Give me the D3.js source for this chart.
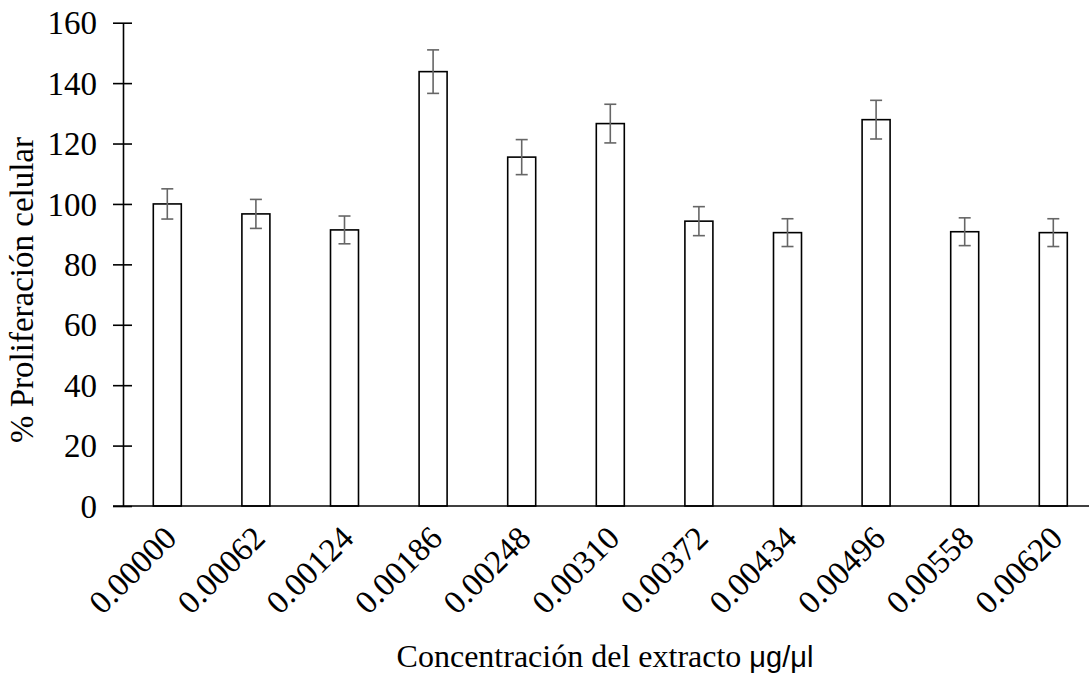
<!DOCTYPE html>
<html>
<head>
<meta charset="utf-8">
<script src="https://cdn.jsdelivr.net/npm/d3@7"></script>
<style>
  html, body { margin: 0; padding: 0; background: #fff; }
  svg { display: block; }
  text { font-family: "Liberation Serif", "Times New Roman", serif; fill: #000; }
</style>
</head>
<body>
<svg id="chart" width="1089" height="675"></svg>
<script>
// Extract concentration (µg/µl)
const categories = ["0.00000", "0.00062", "0.00124", "0.00186", "0.00248", "0.00310",
                    "0.00372", "0.00434", "0.00496", "0.00558", "0.00620"];
// Mean cell proliferation (%)
const means = [100, 96.7, 91.4, 143.8, 115.5, 126.6, 94.3, 90.5, 127.9, 90.8, 90.5];
// Standard error of each mean
const errors = [5.0, 4.8, 4.6, 7.2, 5.8, 6.4, 4.8, 4.6, 6.4, 4.6, 4.6];
const yTicks = [0, 20, 40, 60, 80, 100, 120, 140, 160];

const data = categories.map((c, i) => ({ c, v: means[i], e: errors[i] }));

const svg = d3.select("#chart");
const axisX = 123, baseY = 506, topY = 22.7, rightX = 1097.6;

const x = d3.scaleBand()
  .domain(categories)
  .range([axisX, rightX])
  .paddingInner(0.684)
  .paddingOuter(0.342);

const y = d3.scaleLinear().domain([0, 160]).range([baseY, topY]);

// Bars
svg.append("g")
  .selectAll("rect")
  .data(data)
  .join("rect")
  .attr("x", d => x(d.c))
  .attr("y", d => y(d.v))
  .attr("width", x.bandwidth())
  .attr("height", d => y(0) - y(d.v))
  .attr("fill", "#fff")
  .attr("stroke", "#000")
  .attr("stroke-width", 1.6);

// Error bars
const eb = svg.append("g")
  .attr("stroke", "#666")
  .attr("stroke-width", 1.6)
  .selectAll("g")
  .data(data)
  .join("g")
  .attr("transform", d => `translate(${x(d.c) + x.bandwidth() / 2},0)`);
eb.append("line")
  .attr("y1", d => y(d.v + d.e))
  .attr("y2", d => y(d.v - d.e));
eb.append("line")
  .attr("x1", -6).attr("x2", 6)
  .attr("y1", d => y(d.v + d.e)).attr("y2", d => y(d.v + d.e));
eb.append("line")
  .attr("x1", -6).attr("x2", 6)
  .attr("y1", d => y(d.v - d.e)).attr("y2", d => y(d.v - d.e));

// X axis (baseline, no ticks)
const gx = svg.append("g")
  .attr("transform", `translate(0,${baseY})`)
  .call(d3.axisBottom(x).tickSize(0).tickSizeOuter(0));
gx.select(".domain")
  .attr("d", `M${axisX - 10},0H${rightX}`)
  .attr("stroke", "#000")
  .attr("stroke-width", 1.6);
gx.selectAll(".tick text")
  .attr("font-size", 33)
  .attr("font-family", "Liberation Serif, Times New Roman, serif")
  .attr("text-anchor", "end")
  .attr("y", 0)
  .attr("dy", 0)
  .attr("transform", "translate(11,34) rotate(-45)");

// Y axis with ticks crossing the line
const gy = svg.append("g")
  .attr("transform", `translate(${axisX},0)`)
  .call(d3.axisLeft(y).tickValues(yTicks).tickSize(10).tickPadding(16).tickSizeOuter(0));
gy.select(".domain").attr("stroke", "#000").attr("stroke-width", 1.6);
gy.selectAll(".tick line").attr("x1", 9).attr("stroke", "#000").attr("stroke-width", 1.6);
gy.selectAll(".tick text")
  .attr("font-size", 33)
  .attr("font-family", "Liberation Serif, Times New Roman, serif")
  .attr("dy", "0.34em");

// Axis titles
svg.append("text")
  .attr("transform", "translate(33,290) rotate(-90)")
  .attr("text-anchor", "middle")
  .attr("font-size", 33)
  .text("% Proliferación celular");

const xt = svg.append("text")
  .attr("x", 605)
  .attr("y", 667)
  .attr("text-anchor", "middle")
  .attr("font-size", 32);
xt.append("tspan").text("Concentración del extracto ");
xt.append("tspan")
  .attr("font-family", "Liberation Sans, Arial, sans-serif")
  .attr("font-size", 29)
  .text("μg/μl");
</script>
</body>
</html>
